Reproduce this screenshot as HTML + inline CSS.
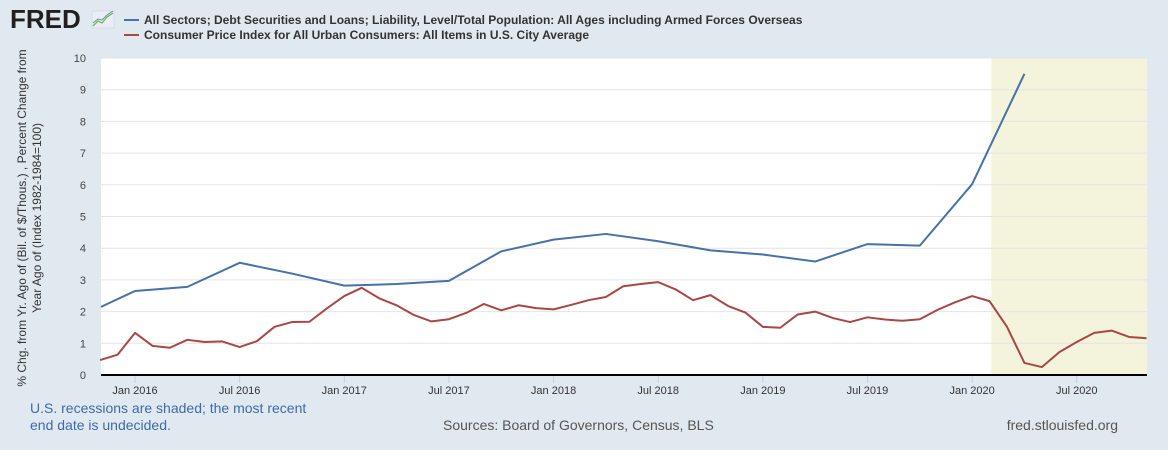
<!DOCTYPE html>
<html><head><meta charset="utf-8"><style>
html,body{margin:0;padding:0;background:#e1e9f0;width:1168px;height:450px;overflow:hidden;font-family:"Liberation Sans",Arial,sans-serif}
svg{display:block}
</style></head><body>
<svg id="chart" width="1168" height="450">
<g>
<text x="10" y="28" font-size="26" font-weight="bold" fill="#231f20">FRED</text>
<rect x="92" y="11" width="22" height="17" fill="#e8eef2" stroke="#ccd" stroke-width="0.5"/>
<polyline points="93,26 98,21 102,23 107,17 113,13" fill="none" stroke="#7ab648" stroke-width="1.3"/>
<polyline points="93,23 98,19 102,20 107,15 113,11" fill="none" stroke="#5b8fc7" stroke-width="1"/>
</g>
<g>
<line x1="124" y1="20" x2="139" y2="20" stroke="#4572a7" stroke-width="2"/>
<text x="144" y="24" font-size="12" font-weight="bold" fill="#333">All Sectors; Debt Securities and Loans; Liability, Level/Total Population: All Ages including Armed Forces Overseas</text>
<line x1="124" y1="35" x2="139" y2="35" stroke="#aa4643" stroke-width="2"/>
<text x="144" y="39" font-size="12" font-weight="bold" fill="#333">Consumer Price Index for All Urban Consumers: All Items in U.S. City Average</text>
</g>
<rect x="101" y="58" width="1046" height="317" fill="#fff"/>
<g id="recess"></g>
<g id="grid"></g>
<g id="series"></g>
<g id="axes"></g>
<g font-size="12" fill="#333">
<text transform="translate(26,218) rotate(-90)" text-anchor="middle">% Chg. from Yr. Ago of (Bil. of $/Thous.) , Percent Change from</text>
<text transform="translate(41,218) rotate(-90)" text-anchor="middle">Year Ago of (Index 1982-1984=100)</text>
</g>
<text x="30" y="413" font-size="14" fill="#3d6aa8">U.S. recessions are shaded; the most recent</text>
<text x="30" y="430" font-size="14" fill="#3d6aa8">end date is undecided.</text>
<text x="443" y="430" font-size="14" fill="#555">Sources: Board of Governors, Census, BLS</text>
<text x="1118" y="430" font-size="14" fill="#555" text-anchor="end">fred.stlouisfed.org</text>
</svg>
<script>
const yTicks=[0,1,2,3,4,5,6,7,8,9,10];
const xTickLabels=["Jan 2016","Jul 2016","Jan 2017","Jul 2017","Jan 2018","Jul 2018","Jan 2019","Jul 2019","Jan 2020","Jul 2020"];
const xTickMonths=[0,6,12,18,24,30,36,42,48,54];
const debtMonths=[-3,0,3,6,9,12,15,18,21,24,27,30,33,36,39,42,45,48,51];
const debtValues=[2.15,2.65,2.78,3.54,3.2,2.82,2.87,2.97,3.9,4.27,4.45,4.22,3.93,3.8,3.58,4.13,4.08,6.02,9.5];
const cpiStartMonth=-2;
const cpiValues=[0.47,0.64,1.33,0.92,0.86,1.11,1.04,1.06,0.88,1.07,1.52,1.67,1.68,2.10,2.49,2.75,2.42,2.2,1.89,1.69,1.76,1.96,2.24,
2.04,2.2,2.11,2.07,2.21,2.36,2.46,2.8,2.87,2.93,2.7,2.36,2.52,2.18,1.97,1.52,1.49,1.91,2.0,1.8,1.67,1.82,
1.75,1.71,1.76,2.05,2.29,2.49,2.33,1.52,0.38,0.25,0.72,1.04,1.33,1.40,1.2,1.16];
const recessionStart=49.1, recessionEnd=58.1;
const NS='http://www.w3.org/2000/svg';
const x0=101,x1=1147,yTop=58,yBot=375;
function xs(m){return 135+m*17.44;}
function ys(v){return yBot-(v/10)*(yBot-yTop);}
function mk(tag,attrs,parent){const e=document.createElementNS(NS,tag);for(const k in attrs)e.setAttribute(k,attrs[k]);document.getElementById(parent).appendChild(e);return e;}
const rc=mk('rect',{x:xs(recessionStart),y:yTop,width:Math.min(x1,xs(recessionEnd))-xs(recessionStart),height:yBot-yTop,fill:'#f4f3dc'},'recess');


yTicks.forEach(t=>{
  if(t>0){const g=mk('line',{x1:x0,x2:x1,y1:ys(t),y2:ys(t),stroke:'#e4e4e4','stroke-width':1},'grid');
  
  }
  const l=mk('text',{x:86,y:ys(t)+4,'font-size':11,fill:'#444','text-anchor':'end'},'axes');
  l.textContent=t;
  
  
});
xTickMonths.forEach((m,i)=>{
  const tk=mk('line',{x1:xs(m),x2:xs(m),y1:yBot,y2:yBot+8,stroke:'#c0d0e0'},'axes');
  
  
  const l=mk('text',{x:xs(m),y:yBot+19,'font-size':11,fill:'#333','text-anchor':'middle'},'axes');
  l.textContent=xTickLabels[i];
  
  
});
const ax=mk('line',{x1:x0,x2:x1,y1:yBot,y2:yBot,stroke:'#000','stroke-width':2},'axes');


const debtPts=debtMonths.map((m,i)=>[Math.max(x0,xs(m)),ys(debtValues[i])]);
debtPts[0][1]=ys(debtValues[0]);
const dl=mk('polyline',{points:debtPts.map(p=>p.join(',')).join(' '),fill:'none',stroke:'#4572a7','stroke-width':2,'stroke-linejoin':'round'},'series');


const cl=mk('polyline',{points:cpiValues.map((v,i)=>xs(cpiStartMonth+i)+','+ys(v)).join(' '),fill:'none',stroke:'#aa4643','stroke-width':2,'stroke-linejoin':'round'},'series');


</script>
</body></html>
